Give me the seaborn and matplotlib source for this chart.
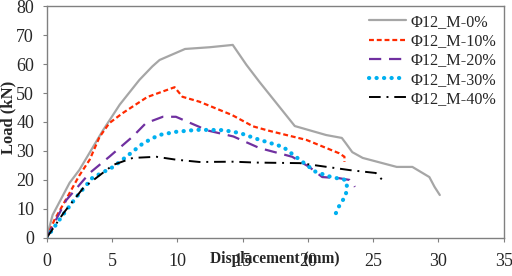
import pandas as pd
import seaborn as sns
import matplotlib.pyplot as plt

# Load-displacement curves
x_0 = [0, 0.46, 1.76, 2.5, 4.3, 5.6, 7.1, 8.1, 8.65, 10.6, 12.5, 14.25, 15.3, 16.3,
       19.0, 21.4, 22.6, 22.9, 23.4, 24.2, 26.8, 28.0, 29.3, 29.7, 30.1]
y_0 = [0, 7.9, 19, 23.4, 37, 46, 54.5, 59.2, 61.4, 65.2, 65.8, 66.6, 59.7, 53.8,
       38.6, 35.5, 34.5, 32.7, 29.6, 27.6, 24.5, 24.5, 21, 17.6, 14.8]

x_10 = [0, 0.6, 1.76, 2.5, 3.3, 4.05, 4.8, 5.8, 7.7, 9.8, 10.4, 11.7, 14.2, 15.8,
        17.0, 19.9, 22.4, 22.8, 22.8]
y_10 = [0, 6.2, 15.5, 21.5, 27, 34.8, 39.6, 43, 48.6, 52, 48.7, 47, 42.4, 38.5,
        37, 33.8, 29.2, 28, 26.2]

x_20 = [0, 1.5, 3.3, 4.8, 6.6, 7.6, 8.9, 9.9, 11.7, 12.2, 14.3, 16.3, 18.8,
        20.1, 21.1, 22.4, 23.2, 23.4, 23.6]
y_20 = [0, 13, 22.4, 28, 35, 39.6, 41.8, 41.8, 38.3, 37.2, 35, 31, 28,
        24.5, 21, 20.6, 20, 19, 17.6]

x_30 = [0, 1.26, 2.3, 3.5, 5.1, 6.1, 7.4, 8.6, 9.9, 11.5, 13.5, 14.8, 16.2, 18.1,
        19.6, 20.6, 21.8, 22.9, 23.0, 22.9, 22.6, 22.3, 22.1]
y_30 = [0, 8, 14.2, 20.7, 24.5, 28, 32.7, 35.5, 36.6, 37.3, 37.2, 36.2, 34, 31.4,
        26.2, 22.8, 21, 20, 17.6, 14.8, 12.4, 10.3, 8]

x_40 = [0, 1.3, 2.8, 3.8, 5.1, 6.6, 8.4, 9.9, 11.7, 14.3, 16.0, 19.4, 23.2, 25.2, 25.7]
y_40 = [0, 8.6, 17.2, 20.7, 25.2, 27.6, 28, 27, 26.2, 26.3, 26, 25.8, 23.4, 22.4, 20]

labels = ["Φ12_M-0%", "Φ12_M-10%", "Φ12_M-20%", "Φ12_M-30%", "Φ12_M-40%"]
colors = ["#a6a6a6", "#ff2a00", "#7030a0", "#00b0f0", "#000000"]

series = [(x_0, y_0), (x_10, y_10), (x_20, y_20), (x_30, y_30), (x_40, y_40)]
styles = [
    dict(lw=1.6, linestyle="-"),
    dict(lw=1.6, dashes=(2.2, 1.3)),
    dict(lw=1.6, dashes=(5.5, 3.5)),
    dict(lw=3.0, dashes=(0.05, 1.75), dash_capstyle="round"),
    dict(lw=1.4, dashes=(6, 3, 1, 3)),
]

sns.set_style("white")
plt.rcParams["font.family"] = ["Liberation Serif", "DejaVu Serif"]

fig, ax = plt.subplots(figsize=(5.12, 2.76), dpi=100)
for (xs, ys), lab, col, st in zip(series, labels, colors, styles):
    df = pd.DataFrame({"Displacement": xs, "Load": ys})
    sns.lineplot(data=df, x="Displacement", y="Load", sort=False, estimator=None,
                 color=col, label=lab, ax=ax, **st)

ax.set_xlim(0, 35)
ax.set_ylim(0, 80)
ax.set_xticks(range(0, 36, 5))
ax.set_yticks(range(0, 81, 10))
ax.tick_params(axis="both", labelsize=13, length=3, direction="out",
               color="#808080", bottom=True, left=True)
ax.tick_params(axis="x", pad=8)
ax.tick_params(axis="y", pad=6)
for sp in ax.spines.values():
    sp.set_color("#808080")
    sp.set_linewidth(1.0)

ax.set_xlabel("Displacement (mm)", fontsize=11.2, fontweight="bold", va="center")
ax.xaxis.set_label_coords(0.5, -0.092)
ax.set_ylabel("Load (kN)", fontsize=12, fontweight="bold")
ax.yaxis.set_label_coords(-0.066, 0.52)

ax.legend(loc="upper right", frameon=False, fontsize=11.6, handlelength=2.3,
          handletextpad=0.25, labelspacing=0.2, borderaxespad=0.1)

plt.subplots_adjust(left=0.091, right=0.984, top=0.978, bottom=0.138)
plt.savefig("out.png", dpi=100)
